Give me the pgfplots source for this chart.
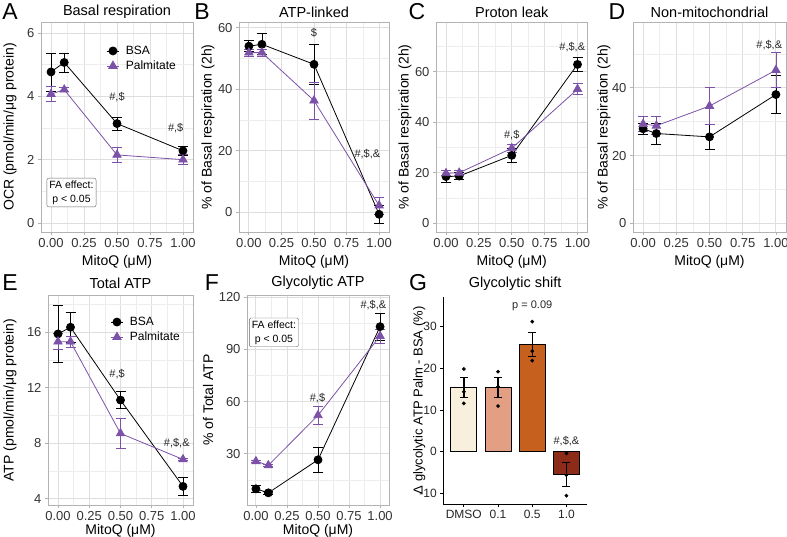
\documentclass[border=0pt]{standalone}
\usepackage{pgfplots}
\pgfplotsset{compat=1.18}
\usepackage{fontspec}
\setmainfont{Liberation Sans}
\definecolor{palm}{HTML}{7B52A8}
\definecolor{gDMSO}{HTML}{F8F0DC}
\definecolor{gA}{HTML}{E29F83}
\definecolor{gB}{HTML}{C6601F}
\definecolor{gC}{HTML}{8B2B18}
\definecolor{bord}{HTML}{B3B3B3}
\definecolor{gridmaj}{HTML}{DEDEDE}
\definecolor{gridmin}{HTML}{EDEDED}
\tikzset{ann/.style={font=\fontsize{11}{13}\selectfont, text=black!85},
  fabox/.style={draw=black!60, rounded corners=2pt, fill=white, align=center, font=\fontsize{10.5}{14}\selectfont, inner sep=2.5pt}}
\pgfplotsset{
 gg/.style={
  scale only axis, anchor=south west,
  axis line style={draw=bord, line width=0.8pt},
  grid=both,
  major grid style={draw=gridmaj, line width=0.9pt},
  minor grid style={draw=gridmin, line width=0.5pt},
  tick align=outside, major tick length=3pt, minor tick length=0pt,
  tick style={draw=bord, line width=0.8pt},
  tick pos=left,
  tick label style={font=\fontsize{13}{15}\selectfont, text=black!80},
  xmin=-0.076, xmax=1.076,
  xtick={0,0.25,0.5,0.75,1}, xticklabels={0.00,0.25,0.50,0.75,1.00},
  minor xtick={0.125,0.375,0.625,0.875},
  xlabel={MitoQ (μM)},
  xlabel style={at={([yshift=-30pt]axis description cs:0.5,0)}, anchor=center, font=\fontsize{14}{16}\selectfont},
  ylabel style={anchor=center, font=\fontsize{14}{16}\selectfont},
  title style={anchor=center, font=\fontsize{14.5}{17}\selectfont},
  legend cell align=left,
  legend image code/.code={\draw[mark repeat=2,mark phase=2] plot coordinates {(0pt,0pt) (6pt,0pt) (12pt,0pt)};},
 },
 ylabx/.style={ylabel style={at={([xshift=-#1]axis description cs:0,0.5)}}},
 titley/.style={title style={at={([yshift=#1]axis description cs:0.5,1)}}},
 bsa/.style={black, line width=0.8pt, mark=*, mark size=4pt,
   error bars/.cd, y dir=both, y explicit,
   error bar style={line width=0.8pt}, error mark options={rotate=90, mark size=5pt, line width=0.8pt}},
 pal/.style={palm, line width=0.8pt, mark=triangle*, mark size=4.8pt,
   error bars/.cd, y dir=both, y explicit,
   error bar style={line width=0.8pt}, error mark options={rotate=90, mark size=5pt, line width=0.8pt}},
 leg/.style={legend style={at={(axis description cs:#1)}, anchor=west, draw=none, fill=none,
   font=\fontsize{12}{14}\selectfont, row sep=2pt, inner sep=0pt, nodes={inner sep=1.5pt},
   /tikz/every odd column/.append style={column sep=5pt}}},
}
\begin{document}
\begin{tikzpicture}
\useasboundingbox (0,0) rectangle (787pt,-537pt);
% ---------- A ----------
\begin{axis}[gg, at={(41pt,-232pt)}, width=152pt, height=210pt,
  ymin=-0.284, ymax=6.347, ytick={0,2,4,6}, yticklabels={0,2,4,6}, minor ytick={1,3,5},
  ylabel={OCR (pmol/min/μg protein)}, ylabx=31pt,
  title={Basal respiration}, titley=4pt, leg={0.43,0.826}]
\addplot[bsa] coordinates {(0,4.77) +- (0,0.6) (0.1,5.07) +- (0,0.3) (0.5,3.14) +- (0,0.21) (1,2.28) +- (0,0.15)};
\addplot[pal] coordinates {(0,4.07) +- (0,0.23) (0.1,4.21) +- (0,0.06) (0.5,2.15) +- (0,0.24) (1,2.0) +- (0,0.16)};
\legend{BSA,Palmitate}
\node[ann] at (axis cs:0.5,3.97) {\#,\$};
\node[ann] at (axis cs:0.945,3.0) {\#,\$};
\node[fabox] at (axis cs:0.155,0.963) {FA effect:\\p < 0.05};
\end{axis}
% ---------- B ----------
\begin{axis}[gg, at={(239pt,-232pt)}, width=150pt, height=210pt,
  ymin=-6.4, ymax=61.85, ytick={0,20,40,60}, yticklabels={0,20,40,60}, minor ytick={10,30,50},
  ylabel={\% of Basal respiration (2h)}, ylabx=31pt,
  title={ATP-linked}, titley=4pt]
\addplot[bsa] coordinates {(0,54.0) +- (0,1.8) (0.1,54.6) +- (0,3.4) (0.5,48.1) +- (0,6.6) (1,-0.65) +- (0,3.0)};
\addplot[pal] coordinates {(0,51.9) +- (0,1.1) (0.1,51.9) +- (0,1.1) (0.5,36.3) +- (0,6.0) (1,2.2) +- (0,2.8)};
\node[ann] at (axis cs:0.5,58.2) {\$};
\node[ann] at (axis cs:0.91,19.0) {\#,\$,\&};
\end{axis}
% ---------- C ----------
\begin{axis}[gg, at={(436pt,-232pt)}, width=151.5pt, height=210pt,
  ymin=-3.44, ymax=79.7, ytick={0,20,40,60}, yticklabels={0,20,40,60}, minor ytick={10,30,50,70},
  ylabel={\% of Basal respiration (2h)}, ylabx=31pt,
  title={Proton leak}, titley=4pt]
\addplot[bsa] coordinates {(0,18.5) +- (0,2.3) (0.1,18.7) +- (0,1.3) (0.5,26.9) +- (0,2.7) (1,62.9) +- (0,2.8)};
\addplot[pal] coordinates {(0,19.8) +- (0,1.0) (0.1,20.0) +- (0,1.0) (0.5,29.7) +- (0,1.7) (1,53.1) +- (0,2.2)};
\node[ann] at (axis cs:0.5,34.9) {\#,\$};
\node[ann] at (axis cs:0.96,69.9) {\#,\$,\&};
\end{axis}
% ---------- D ----------
\begin{axis}[gg, at={(633pt,-232pt)}, width=153pt, height=210pt,
  ymin=-2.56, ymax=59.4, ytick={0,20,40}, yticklabels={0,20,40}, minor ytick={10,30,50},
  ylabel={\% of Basal respiration (2h)}, ylabx=29pt,
  title={Non-mitochondrial}, titley=4pt]
\addplot[bsa] coordinates {(0,27.9) +- (0,1.7) (0.1,26.5) +- (0,3.1) (0.5,25.5) +- (0,3.8) (1,38.0) +- (0,5.5)};
\addplot[pal] coordinates {(0,29.3) +- (0,2.2) (0.1,28.8) +- (0,2.6) (0.5,34.6) +- (0,5.4) (1,45.2) +- (0,5.1)};
\node[ann] at (axis cs:0.95,52.7) {\#,\$,\&};
\end{axis}
% ---------- E ----------
\begin{axis}[gg, at={(48pt,-505pt)}, width=145pt, height=210pt, xmin=-0.08, xmax=1.08,
  ymin=3.55, ymax=18.66, ytick={4,8,12,16}, yticklabels={4,8,12,16}, minor ytick={6,10,14,18},
  ylabel={ATP (pmol/min/μg protein)}, ylabx=38pt,
  title={Total ATP}, titley=6pt, xlabel style={at={([yshift=-26pt]axis description cs:0.5,0)}},
  leg={0.43,0.835}]
\addplot[bsa] coordinates {(0,15.86) +- (0,2.08) (0.1,16.34) +- (0,1.1) (0.5,11.1) +- (0,0.6) (1,4.89) +- (0,0.65)};
\addplot[pal] coordinates {(0,15.3) +- (0,0.57) (0.1,15.3) +- (0,0.4) (0.5,8.7) +- (0,1.1) (1,6.83) +- (0,0.1)};
\legend{BSA,Palmitate}
\node[ann] at (axis cs:0.473,13.0) {\#,\$};
\node[ann] at (axis cs:0.95,7.98) {\#,\$,\&};
\end{axis}
% ---------- F ----------
\begin{axis}[gg, at={(247pt,-505pt)}, width=142pt, height=210pt, xmin=-0.072, xmax=1.072,
  ymin=0.5, ymax=121.3, ytick={30,60,90,120}, yticklabels={30,60,90,120}, minor ytick={15,45,75,105},
  ylabel={\% of Total ATP}, ylabx=39pt,
  title={Glycolytic ATP}, titley=6pt, xlabel style={at={([yshift=-26pt]axis description cs:0.5,0)}}]
\addplot[bsa] coordinates {(0,9.8) +- (0,1.9) (0.1,7.5) +- (0,0.8) (0.5,26.5) +- (0,7.3) (1,103.1) +- (0,7.7)};
\addplot[pal] coordinates {(0,25.6) +- (0,0.8) (0.1,23.3) +- (0,0.6) (0.5,52.1) +- (0,5.0) (1,97.7) +- (0,4.0)};
\node[ann] at (axis cs:0.496,61.7) {\#,\$};
\node[ann] at (axis cs:0.946,115.2) {\#,\$,\&};
\node[fabox] at (axis cs:0.145,99.8) {FA effect:\\p < 0.05};
\end{axis}
% ---------- G ----------
\begin{axis}[scale only axis, anchor=south west, at={(443.3pt,-504pt)}, width=143.7pt, height=207.3pt,
  axis x line=bottom, axis y line=left, axis line style={-, line width=1pt, black},
  xmin=0.4, xmax=4.6, ymin=-12.55, ymax=37.2,
  xtick={1,2,3,4}, xticklabels={DMSO,0.1,0.5,1.0},
  ytick={-10,0,10,20,30}, yticklabels={-10,0,10,20,30},
  tick align=outside, major tick length=3pt, tick style={black, line width=0.8pt},
  tick label style={font=\fontsize{12}{14}\selectfont, text=black!85},
  ylabel={Δ glycolytic ATP Palm - BSA (\%)},
  ylabel style={anchor=center, font=\fontsize{13}{15}\selectfont, at={([xshift=-24pt]axis description cs:0,0.5)}},
  title={Glycolytic shift},
  title style={anchor=center, font=\fontsize{14.5}{17}\selectfont, at={([yshift=7pt]axis description cs:0.5,1)}}]
\addplot[ybar, bar width=0.76, bar shift=0pt, fill=gDMSO, draw=black, line width=0.9pt,
  error bars/.cd, y dir=both, y explicit, error bar style={line width=1.4pt, black}, error mark options={rotate=90, mark size=4pt, line width=1.4pt, black}]
  coordinates {(1,15.36) +- (0,2.4)};
\addplot[ybar, bar width=0.76, bar shift=0pt, fill=gA, draw=black, line width=0.9pt,
  error bars/.cd, y dir=both, y explicit, error bar style={line width=1.4pt, black}, error mark options={rotate=90, mark size=4pt, line width=1.4pt, black}]
  coordinates {(2,15.36) +- (0,2.4)};
\addplot[ybar, bar width=0.76, bar shift=0pt, fill=gB, draw=black, line width=0.9pt,
  error bars/.cd, y dir=both, y explicit, error bar style={line width=1.4pt, black}, error mark options={rotate=90, mark size=4pt, line width=1.4pt, black}]
  coordinates {(3,25.7) +- (0,2.9)};
\addplot[ybar, bar width=0.76, bar shift=0pt, fill=gC, draw=black, line width=0.9pt,
  error bars/.cd, y dir=both, y explicit, error bar style={line width=1.4pt, black}, error mark options={rotate=90, mark size=4pt, line width=1.4pt, black}]
  coordinates {(4,-5.52) +- (0,2.9)};
\addplot[only marks, mark=*, mark size=1.7pt, black] coordinates {
  (1,19.84) (1,14.4) (1,11.6) (2,19.2) (2,15.6) (2,10.96)
  (3,31.2) (3,24.16) (3,21.84) (4,-0.4) (4,-5.6) (4,-10.56)};
\node[ann] at (axis cs:3,34.96) {p = 0.09};
\node[ann] at (axis cs:4,2.56) {\#,\$,\&};
\end{axis}
% ---------- panel letters ----------
\begin{scope}[every node/.style={font=\fontsize{23}{25}\selectfont}]
\node at (10pt,-12pt) {A};
\node at (202pt,-12pt) {B};
\node at (417pt,-12pt) {C};
\node at (617pt,-12pt) {D};
\node at (10pt,-283pt) {E};
\node at (212pt,-283pt) {F};
\node at (418pt,-283pt) {G};
\end{scope}
\end{tikzpicture}
\end{document}
